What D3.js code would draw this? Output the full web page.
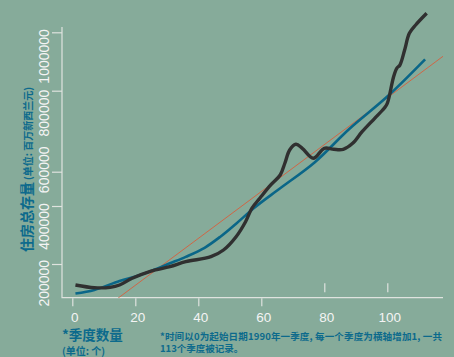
<!DOCTYPE html>
<html><head><meta charset="utf-8">
<script src="https://cdn.jsdelivr.net/npm/d3@7"></script>
<style>html,body{margin:0;padding:0;background:#86ab9a;overflow:hidden;}</style>
</head><body><svg id="c" width="454" height="357"></svg>
<script>
// ---- data ----
const blackQuarters = [1,7,12,15,19,25,31,36,44,48,52,55,57,59.6,63,66,67.5,69,71,73,76.5,80,83,86,89,92,96,99,100,102,103,104,105.5,107,109,112.5];
const blackValues = [193700,184100,185500,193700,217300,243000,258200,275800,293500,317100,364000,416900,464200,500500,546400,581600,624000,669800,689900,675800,640500,675800,672300,672300,693400,734300,781600,816900,834500,928300,958000,969600,1022500,1081400,1110700,1152000];
const blueQuarters = [1,7,15,21,26,31,36,42,47,52,58,66,77,88,100,112];
const blueValues = [163400,176000,207800,227000,247600,270200,293000,325000,364000,410000,468000,535000,627000,745000,858500,989700];
const trendCoef = [27100, 8270]; // intercept, slope per quarter
const xTicks = [0,20,40,60,80,100];
const yTicks = [200000,400000,600000,800000,1000000];
const yTitle = "住房总存量";
const yUnit = "(单位: 百万新西兰元)";
const xTitle = "*季度数量";
const xUnit = "(单位: 个)";
const noteLines = ["*时间以0为起始日期1990年一季度, 每一个季度为横轴增加1, 一共","113个季度被记录。"];

// ---- styles ----
const BG = "#86ab9a", AXIS = "#dfe3df", LABEL = "#f4f4f4", BLUE = "#0a6688", TXT = "#0c6a8c", BLACK = "#303030", ORANGE = "#cf6646";
const CJK = "'Noto Sans CJK SC','Noto Sans',sans-serif";
const NUM = "'Liberation Sans',Arial,sans-serif";

const svg = d3.select("#c");
svg.append("rect").attr("width",454).attr("height",357).attr("fill",BG);

const plot = {left:62,right:443,top:27,bottom:297.7};
const x = d3.scaleLinear().domain([0,100]).range([72.3,387.3]);
const y = d3.scaleLinear().domain([200000,1000000]).range([283.2,56.4]);
const yTickMark = d3.scaleLinear().domain(yTicks).range([264,206,171.7,90.7,32.3]);

// clip
svg.append("clipPath").attr("id","clip").append("rect")
  .attr("x",plot.left).attr("y",plot.top).attr("width",plot.right-plot.left).attr("height",plot.bottom-plot.top);

// axis frame (L)
svg.append("path").attr("d",`M${plot.left},${plot.top}V${plot.bottom}H${plot.right}`)
  .attr("fill","none").attr("stroke",AXIS).attr("stroke-width",1.2);

// y ticks
const gy = svg.append("g").attr("transform",`translate(${plot.left},0)`)
  .call(d3.axisLeft(yTickMark).tickValues(yTicks).tickSize(10).tickFormat(""));
gy.select(".domain").remove();
gy.selectAll(".tick line").attr("stroke",AXIS).attr("stroke-width",1.2);

// y labels
svg.append("g").selectAll("text").data(yTicks).join("text")
  .attr("transform",d=>`translate(48.5,${y(d)}) rotate(-90)`)
  .attr("text-anchor","middle").attr("font-family",NUM).attr("font-size",14)
  .attr("fill",LABEL).text(d=>d3.format("d")(d));

// x ticks
const lowTicks = xTicks.filter(d=>d<=60), highTicks = xTicks.filter(d=>d>60);
const gx1 = svg.append("g").attr("transform",`translate(0,298.3)`)
  .call(d3.axisBottom(x).tickValues(lowTicks).tickSize(8).tickFormat(""));
const gx2 = svg.append("g").attr("transform",`translate(0,283.3)`)
  .call(d3.axisBottom(x).tickValues(highTicks).tickSize(9).tickFormat(""));
[gx1,gx2].forEach(g=>{g.select(".domain").remove(); g.selectAll(".tick line").attr("stroke",AXIS).attr("stroke-width",1.2);});

svg.append("g").selectAll("text").data(xTicks).join("text")
  .attr("x",d=>x(d)+2.5).attr("y",321.5).attr("text-anchor","middle")
  .attr("font-family",NUM).attr("font-size",13.5).attr("fill",LABEL).text(d=>d);

// trend line
const g = svg.append("g").attr("clip-path","url(#clip)");
const trendQ = [-10,130];
g.append("line")
  .attr("x1",x(trendQ[0])).attr("y1",y(trendCoef[0]+trendCoef[1]*trendQ[0]))
  .attr("x2",x(trendQ[1])).attr("y2",y(trendCoef[0]+trendCoef[1]*trendQ[1]))
  .attr("stroke",ORANGE).attr("stroke-width",1);

// blue fitted line
const blueData = blueQuarters.map((q,i)=>[q,blueValues[i]]);
const line = d3.line().x(d=>x(d[0])).y(d=>y(d[1])).curve(d3.curveCatmullRom.alpha(0.5));
g.append("path").attr("d",line(blueData)).attr("fill","none").attr("stroke",BLUE).attr("stroke-width",2.6);

// black curve
const blackData = blackQuarters.map((q,i)=>[q,blackValues[i]]);
svg.append("path").attr("d",line(blackData)).attr("fill","none").attr("stroke",BLACK)
  .attr("stroke-width",3.4).attr("stroke-linejoin","round");

// y title
const yt = svg.append("text").attr("transform","translate(32,252) rotate(-90)")
  .attr("font-family",CJK).attr("font-weight","bold").attr("fill",TXT);
yt.append("tspan").attr("font-size",14).text(yTitle);
yt.append("tspan").attr("font-size",10).attr("dx",2).text(yUnit);

// x title
svg.append("text").attr("x",62).attr("y",339.5).attr("font-family",CJK).attr("font-weight","bold")
  .attr("font-size",13.5).attr("fill",TXT).text(xTitle);
svg.append("text").attr("x",62).attr("y",355).attr("font-family",CJK).attr("font-weight","bold")
  .attr("font-size",10).attr("fill",TXT).text(xUnit);

// note
svg.append("g").selectAll("text").data(noteLines).join("text")
  .attr("x",160).attr("y",(d,i)=>339.5+i*12.5).attr("font-family",CJK).attr("font-weight","bold")
  .attr("font-size",9.5).attr("fill",TXT)
  .each(function(d,i){ if(i===0) d3.select(this).attr("textLength",282).attr("lengthAdjust","spacing"); })
  .text(d=>d);
</script></body></html>
